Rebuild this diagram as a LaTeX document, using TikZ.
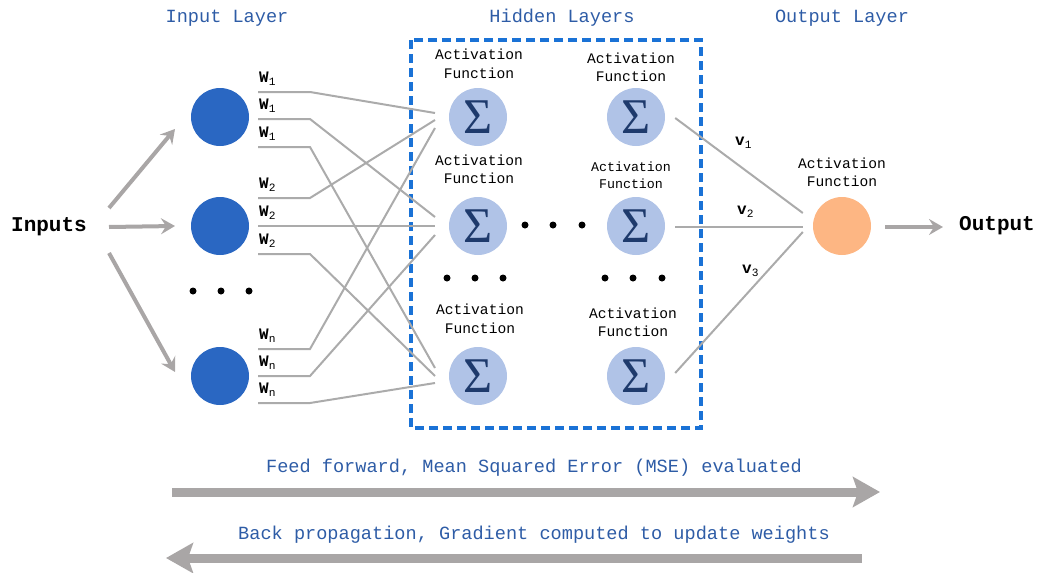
\documentclass[tikz,border=0pt]{standalone}
\usepackage{fontspec}
\setmainfont{Liberation Mono}
\newfontfamily\sigmafont{Liberation Serif}
\usetikzlibrary{arrows.meta,calc}
\definecolor{titleblue}{HTML}{2E5CA6}
\definecolor{boxblue}{HTML}{1A72D6}
\definecolor{inblue}{HTML}{2A67C2}
\definecolor{hidblue}{HTML}{B0C3E7}
\definecolor{sigcol}{HTML}{1E3A6C}
\definecolor{outorange}{HTML}{FDB683}
\definecolor{linegray}{HTML}{ABABAB}
\definecolor{arrgray}{HTML}{A9A6A6}
\begin{document}
\begin{tikzpicture}[x=1pt,y=-1pt,
  incirc/.style={circle,fill=inblue,minimum size=58pt,inner sep=0pt},
  hidcirc/.style={circle,fill=hidblue,minimum size=58pt,inner sep=0pt,text=sigcol,font=\sigmafont\fontsize{50}{50}\selectfont},
  outcirc/.style={circle,fill=outorange,minimum size=58pt,inner sep=0pt},
  title/.style={text=titleblue,font=\fontsize{18.6}{20}\selectfont,inner sep=0pt},
  aflabel/.style={align=center,inner sep=0pt,font=\fontsize{14.6}{18.5}\selectfont},
  aflabelsm/.style={align=center,inner sep=0pt,font=\fontsize{13.3}{16.5}\selectfont},
  wlabel/.style={anchor=west,inner sep=0pt,font=\fontsize{16}{16}\selectfont},
  wline/.style={draw=linegray,line width=2pt},
  inarrow/.style={draw=arrgray,line width=4pt,-{Stealth[length=14pt,width=16pt,inset=5pt]}},
  bigarrow/.style={draw=arrgray,line width=9pt,-{Stealth[length=27pt,width=30pt,inset=5pt]}},
  bold/.style={inner sep=0pt,font=\bfseries\fontsize{21}{21}\selectfont},
  dot/.style={fill=black}
]
\useasboundingbox (0,0) rectangle (1039,573);

% titles
\node[title] (tin) at (227,18) {Input Layer};
\node[title] (thid) at (562,18) {Hidden Layers};
\node[title] (tout) at (842,18) {Output Layer};

% hidden box
\draw[boxblue,line width=3.5pt,dash pattern=on 9pt off 5pt] (411,40) rectangle (701,428);

% input nodes
\node[incirc] (i1) at (220,117) {};
\node[incirc] (i2) at (220,226) {};
\node[incirc] (i3) at (220,376) {};
\foreach \x in {193,221,249} \fill[dot] (\x,291) circle (3.5pt);

% inputs
\node[bold,anchor=west] (inp) at (11,227) {Inputs};
\draw[inarrow] ($(inp.center)+(60,-19)$) -- ($(i1.center)+(-45,12)$);
\draw[inarrow] ($(inp.center)+(60,0)$) -- ($(i2.center)+(-45,0)$);
\draw[inarrow] ($(inp.center)+(60,26)$) -- ($(i3.center)+(-45,-4)$);

% hidden nodes
\node[hidcirc] (h11) at (478,117) {Σ};
\node[hidcirc] (h21) at (478,226) {Σ};
\node[hidcirc] (h31) at (478,376) {Σ};
\node[hidcirc] (h12) at (636,117) {Σ};
\node[hidcirc] (h22) at (636,226) {Σ};
\node[hidcirc] (h32) at (636,376) {Σ};
\foreach \x in {525,553,582} \fill[dot] (\x,225) circle (3.5pt);
\foreach \x in {447,475,503,605,633,662} \fill[dot] (\x,278) circle (3.5pt);

% activation labels
\node[aflabel] (a11) at (479,64) {Activation\\Function};
\node[aflabel] (a12) at (631,67.5) {Activation\\Function};
\node[aflabel] (a21) at (479,169.5) {Activation\\Function};
\node[aflabelsm] (a22) at (631,175) {Activation\\Function};
\node[aflabel] (a31) at (480,319) {Activation\\Function};
\node[aflabel] (a32) at (633,322.5) {Activation\\Function};

% weight lines from input 1
\draw[wline] ($(i1.center)+(38,-25)$) -- ++(52,0) -- ($(h11.center)+(-43,-4)$);
\draw[wline] ($(i1.center)+(38,2)$) -- ++(52,0) -- ($(h21.center)+(-43,-9)$);
\draw[wline] ($(i1.center)+(38,30)$) -- ++(52,0) -- ($(h31.center)+(-43,-8)$);
% input 2
\draw[wline] ($(i2.center)+(38,-28)$) -- ++(52,0) -- ($(h11.center)+(-43,3)$);
\draw[wline] ($(i2.center)+(38,0)$) -- ++(52,0) -- ($(h21.center)+(-43,0)$);
\draw[wline] ($(i2.center)+(38,28)$) -- ++(52,0) -- ($(h31.center)+(-43,0)$);
% input n
\draw[wline] ($(i3.center)+(38,-27)$) -- ++(52,0) -- ($(h11.center)+(-43,11)$);
\draw[wline] ($(i3.center)+(38,0)$) -- ++(52,0) -- ($(h21.center)+(-43,9)$);
\draw[wline] ($(i3.center)+(38,27)$) -- ++(52,0) -- ($(h31.center)+(-43,7)$);

% weight labels
\node[wlabel] (w1a) at (259,79) {\textbf{W}\textsubscript{1}};
\node[wlabel] (w1b) at (259,106) {\textbf{W}\textsubscript{1}};
\node[wlabel] (w1c) at (259,134) {\textbf{W}\textsubscript{1}};
\node[wlabel] (w2a) at (259,185) {\textbf{W}\textsubscript{2}};
\node[wlabel] (w2b) at (259,213) {\textbf{W}\textsubscript{2}};
\node[wlabel] (w2c) at (259,241) {\textbf{W}\textsubscript{2}};
\node[wlabel] (wna) at (259,336) {\textbf{W}\textsubscript{n}};
\node[wlabel] (wnb) at (259,363) {\textbf{W}\textsubscript{n}};
\node[wlabel] (wnc) at (259,390) {\textbf{W}\textsubscript{n}};

% output
\node[outcirc] (o) at (842,226) {};
\node[aflabel] (ao) at (842,172.5) {Activation\\Function};
\draw[wline] ($(h12.east)+(10,1)$) -- ($(o.west)+(-10,-13)$);
\draw[wline] ($(h22.east)+(10,1)$) -- ($(o.west)+(-10,1)$);
\draw[wline] ($(h32.east)+(10,-3)$) -- ($(o.west)+(-10,6)$);
\node[wlabel] (v1) at (735,143) {\textbf{v}\textsubscript{1}};
\node[wlabel] (v2) at (737,212) {\textbf{v}\textsubscript{2}};
\node[wlabel] (v3) at (742,271) {\textbf{v}\textsubscript{3}};

\node[bold] (outp) at (997,226) {Output};
\draw[inarrow] ($(o.east)+(14,1)$) -- ($(outp.west)+(-16,1)$);

% bottom
\node[title] (ff) at (534,468) {Feed forward, Mean Squared Error (MSE) evaluated};
\node[title] (bp) at (534,535) {Back propagation, Gradient computed to update weights};
\coordinate (ffs) at (172,492);
\coordinate (ffe) at (880,492);
\coordinate (bps) at (862,558);
\coordinate (bpe) at (166,558);
\draw[bigarrow] (ffs) -- (ffe);
\draw[bigarrow] (bps) -- (bpe);
\end{tikzpicture}
\end{document}
